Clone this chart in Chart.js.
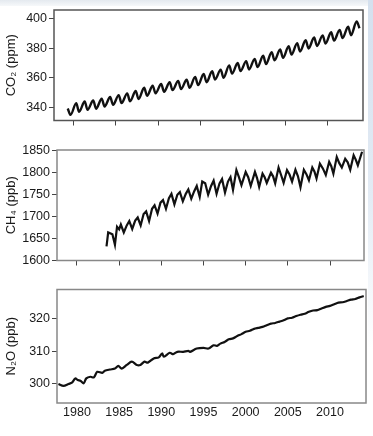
<!DOCTYPE html>
<html>
<head>
<meta charset="utf-8">
<script src="https://cdn.jsdelivr.net/npm/chart.js@4.4.0/dist/chart.umd.min.js"></script>
<style>
  html, body { margin: 0; padding: 0; background: #fff; }
  #page { position: relative; width: 373px; height: 436px; overflow: hidden; }
  #topband { position: absolute; left: 0; top: 0; width: 373px; height: 6px;
    background: linear-gradient(#e4e9ef, #f6f8fa); }
  #sideband { position: absolute; left: 368px; top: 0; width: 5px; height: 436px;
    background: linear-gradient(#d4e0ee, #e3ebf4 45%, #ffffff 80%); }
  canvas { position: absolute; left: 0; }
</style>
</head>
<body>
<div id="page">
  <div id="topband"></div>
  <div id="sideband"></div>
  <canvas id="co2" style="top:0px" width="373" height="130"></canvas>
  <canvas id="ch4" style="top:140px" width="373" height="130"></canvas>
  <canvas id="n2o" style="top:280px" width="373" height="153"></canvas>
</div>
<script>
// ── Datos ──
const xTicks = [1980, 1985, 1990, 1995, 2000, 2005, 2010];

// CO2: máximo (mayo) y mínimo (septiembre) de cada año, ppm
const co2Years = [1979, 1980, 1981, 1982, 1983, 1984, 1985, 1986, 1987, 1988,
  1989, 1990, 1991, 1992, 1993, 1994, 1995, 1996, 1997, 1998,
  1999, 2000, 2001, 2002, 2003, 2004, 2005, 2006, 2007, 2008,
  2009, 2010, 2011, 2012, 2013];
const co2Peaks = [339.2, 342.8, 343.9, 344.6, 345.8, 346.9, 348.2, 349.4, 351.0, 353.2,
  354.6, 355.8, 357.0, 357.9, 358.7, 360.6, 362.6, 364.4, 365.5, 368.4,
  370.0, 371.3, 372.8, 374.9, 377.4, 379.2, 381.4, 383.5, 385.5, 387.3,
  388.8, 390.9, 392.5, 394.6, 398.2];
const co2Troughs = [334.8, 336.9, 338.2, 339.0, 340.5, 341.6, 342.8, 344.0, 345.6, 347.8,
  349.4, 350.5, 351.6, 352.3, 353.2, 355.0, 357.0, 358.8, 360.0, 362.8,
  364.5, 365.6, 367.2, 369.3, 371.8, 373.5, 375.7, 377.8, 379.9, 381.6,
  383.2, 385.2, 386.9, 388.9, 393.6];
const co2PeakMonth = 5;
const co2TroughMonth = 9;
const co2Ticks = [340, 360, 380, 400];

// CH4 (ppb)
const ch4Years = [1983.50, 1983.70, 1984.20, 1984.50, 1984.75,
  1985.00, 1985.20, 1985.55, 1985.90, 1986.20, 1986.55, 1986.90,
  1987.20, 1987.55, 1987.90, 1988.20, 1988.55, 1988.90,
  1989.20, 1989.55, 1989.90, 1990.20, 1990.55, 1990.90,
  1991.20, 1991.55, 1991.90, 1992.20, 1992.55, 1992.90,
  1993.20, 1993.55, 1993.90, 1994.20, 1994.55, 1994.85,
  1995.20, 1995.55, 1995.90, 1996.20, 1996.55, 1996.90,
  1997.20, 1997.55, 1997.90, 1998.20, 1998.50, 1998.90,
  1999.20, 1999.50, 2000.00, 2000.30, 2000.60, 2001.10, 2001.35, 2001.60,
  2002.00, 2002.25, 2002.50, 2003.00, 2003.25, 2003.50, 2003.90, 2004.20, 2004.50,
  2004.90, 2005.20, 2005.50, 2005.90, 2006.20, 2006.50, 2006.90, 2007.20, 2007.50,
  2007.90, 2008.15, 2008.40, 2008.80, 2009.15, 2009.50, 2009.90, 2010.15, 2010.40,
  2010.80, 2011.10, 2011.40, 2011.80, 2012.10, 2012.40, 2012.80, 2013.05, 2013.30, 2013.80];
const ch4Values = [1632, 1664, 1660, 1636, 1677,
  1671, 1682, 1664, 1680, 1690, 1672, 1691,
  1698, 1680, 1706, 1712, 1690, 1718,
  1726, 1707, 1732, 1738, 1718, 1742,
  1752, 1728, 1750, 1756, 1735, 1752,
  1762, 1741, 1758, 1770, 1745, 1780,
  1776, 1750, 1770, 1782, 1752, 1776,
  1786, 1755, 1780, 1790, 1761, 1806,
  1790, 1772, 1802, 1790, 1770, 1802, 1788, 1768,
  1798, 1790, 1777, 1800, 1792, 1776, 1812, 1795, 1777,
  1806, 1796, 1780, 1807, 1792, 1767, 1807, 1797, 1783,
  1812, 1803, 1787, 1821, 1810, 1795, 1825, 1815, 1798,
  1836, 1822, 1812, 1832, 1824, 1807, 1840, 1830, 1817, 1848];
const ch4Ticks = [1600, 1650, 1700, 1750, 1800, 1850];

// N2O (ppb)
const n2oYears = [1977.8, 1978.4, 1979.0, 1979.4, 1979.8, 1980.1, 1980.4, 1980.8, 1981.1, 1981.6,
  1982.0, 1982.4, 1983.0, 1983.3, 1983.9, 1984.5, 1984.9, 1985.3, 1985.9, 1986.5,
  1987.1, 1987.5, 1988.0, 1988.4, 1989.1, 1989.7, 1990.1, 1990.3, 1991.0, 1991.4,
  1991.9, 1992.6, 1993.2, 1993.4, 1994.2, 1995.0, 1995.6, 1996.2, 1996.6, 1997.0,
  1997.5, 1998.0, 1998.5, 1999.0, 1999.5, 2000.0, 2000.5, 2001.0, 2001.5, 2002.0,
  2002.5, 2003.0, 2003.5, 2004.0, 2004.5, 2005.0, 2005.5, 2006.0, 2006.5, 2007.0,
  2007.5, 2008.0, 2008.5, 2009.0, 2009.5, 2010.0, 2010.5, 2011.0, 2011.5, 2012.0,
  2012.5, 2013.0, 2013.5, 2014.0];
const n2oValues = [300.0, 299.4, 300.0, 300.4, 301.7, 301.2, 301.0, 300.2, 301.7, 302.2,
  302.0, 303.7, 303.4, 304.0, 304.4, 304.7, 305.5, 304.7, 305.8, 306.8,
  305.8, 305.8, 306.8, 306.5, 307.8, 308.1, 309.3, 308.3, 309.5, 309.1,
  309.8, 309.8, 310.1, 309.8, 310.8, 311.0, 310.8, 311.8, 311.6, 312.3,
  312.8, 313.6, 313.9, 314.6, 315.2, 315.9, 316.2, 316.8, 317.1, 317.4,
  317.9, 318.4, 318.6, 319.0, 319.4, 320.0, 320.2, 320.7, 321.1, 321.4,
  322.0, 322.4, 322.5, 323.0, 323.5, 323.8, 324.3, 324.8, 324.9, 325.3,
  325.7, 325.9, 326.4, 326.8];
const n2oTicks = [300, 310, 320];

// ── Estilo común ──
const FONT = '"Liberation Sans", Arial, Helvetica, sans-serif';
const tickFont = { family: FONT, size: 12.5 };

// Marco gris alrededor del área de la gráfica
const framePlugin = {
  id: 'frame',
  afterDraw(chart) {
    const { ctx, chartArea: a } = chart;
    ctx.save();
    ctx.strokeStyle = chart.options.plugins.frame.color;
    ctx.lineWidth = 1.5;
    ctx.strokeRect(a.left, a.top, a.right - a.left, a.bottom - a.top);
    ctx.restore();
  },
};

function toPoints(xs, ys) {
  return xs.map((x, i) => ({ x: x, y: ys[i] }));
}

// Crea un panel. p trae límites de ejes, márgenes y datos.
function makePanel(id, p) {
  const ctx = document.getElementById(id).getContext('2d');
  return new Chart(ctx, {
    type: 'line',
    data: {
      datasets: [{
        data: p.points,
        borderColor: '#111',
        borderWidth: p.lineWidth,
        pointRadius: 0,
        tension: p.tension,
        cubicInterpolationMode: p.cubic ? 'monotone' : 'default',
        fill: false,
      }],
    },
    plugins: [framePlugin],
    options: {
      responsive: false,
      animation: false,
      events: [],
      layout: { padding: { top: p.padTop, right: p.padRight, left: 0, bottom: 0 } },
      plugins: {
        legend: { display: false },
        tooltip: { enabled: false },
        frame: { color: p.frameColor },
      },
      scales: {
        x: {
          type: 'linear',
          min: p.xMin,
          max: p.xMax,
          afterBuildTicks: (s) => { s.ticks = xTicks.map(v => ({ value: v })); },
          afterFit: (s) => { s.height = p.xHeight; },
          grid: { drawOnChartArea: false, drawTicks: p.xTickMarks, tickLength: 5, color: '#444', lineWidth: 1 },
          border: { display: false },
          ticks: {
            display: p.xLabels,
            font: tickFont,
            color: '#1a1a1a',
            padding: 2,
            maxRotation: 0,
            callback: (v) => String(v),
          },
        },
        y: {
          type: 'linear',
          min: p.yMin,
          max: p.yMax,
          afterBuildTicks: (s) => { s.ticks = p.yTicks.map(v => ({ value: v })); },
          afterFit: (s) => { s.width = p.yWidth; },
          grid: { drawOnChartArea: false, drawTicks: true, tickLength: 5, color: '#444', lineWidth: 1 },
          border: { display: false },
          ticks: { font: tickFont, color: '#1a1a1a', padding: 2, callback: (v) => String(v) },
          title: {
            display: true,
            text: p.title,
            font: { family: FONT, size: 13 },
            color: '#1a1a1a',
            padding: { top: 4, bottom: 0 },
          },
        },
      },
    },
  });
}

// CO2: alterna máximo y mínimo de cada año
const co2Points = [];
co2Years.forEach((yr, i) => {
  co2Points.push({ x: yr + (co2PeakMonth - 0.5) / 12, y: co2Peaks[i] });
  co2Points.push({ x: yr + (co2TroughMonth - 0.5) / 12, y: co2Troughs[i] });
});

makePanel('co2', {
  points: co2Points, tension: 0.4, cubic: true, lineWidth: 2.4,
  xMin: 1977.76, xMax: 2014.12, yMin: 331, yMax: 406, yTicks: co2Ticks,
  padTop: 10, padRight: 10, yWidth: 54, xHeight: 8,
  xLabels: false, xTickMarks: true, title: 'CO₂ (ppm)', frameColor: '#555',
});

makePanel('ch4', {
  points: toPoints(ch4Years, ch4Values), tension: 0, cubic: false, lineWidth: 2.2,
  xMin: 1977.63, xMax: 2014.03, yMin: 1600, yMax: 1852, yTicks: ch4Ticks,
  padTop: 10, padRight: 9, yWidth: 57, xHeight: 8,
  xLabels: false, xTickMarks: true, title: 'CH₄ (ppb)', frameColor: '#888',
});

makePanel('n2o', {
  points: toPoints(n2oYears, n2oValues), tension: 0.3, cubic: false, lineWidth: 2.2,
  xMin: 1977.63, xMax: 2014.27, yMin: 294.2, yMax: 328.8, yTicks: n2oTicks,
  padTop: 9, padRight: 7, yWidth: 57, xHeight: 30,
  xLabels: true, xTickMarks: false, title: 'N₂O (ppb)', frameColor: '#888',
});
</script>
</body>
</html>
